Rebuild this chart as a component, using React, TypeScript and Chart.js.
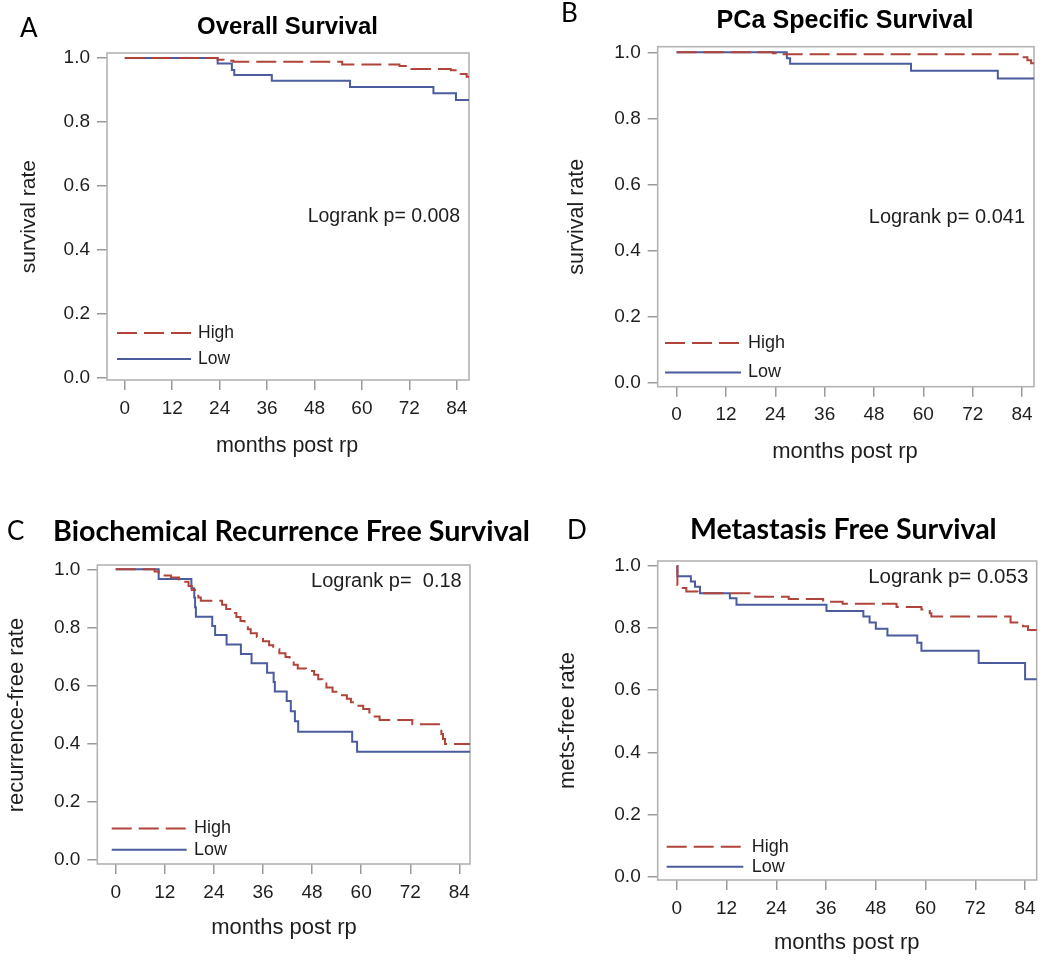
import React, { useEffect, useRef } from "react";
import { Chart, registerables } from "chart.js";

Chart.register(...registerables);

// ---------------- data ----------------
const monthTicks = [0, 12, 24, 36, 48, 60, 72, 84];
const rateTicks = [0, 0.2, 0.4, 0.6, 0.8, 1.0];
const groupNames = ["High", "Low"];

const panelLetters = ["A", "B", "C", "D"];
const panelTitles = [
  "Overall Survival",
  "PCa Specific Survival",
  "Biochemical Recurrence Free Survival",
  "Metastasis Free Survival",
];
const yAxisTitles = ["survival rate", "survival rate", "recurrence-free rate", "mets-free rate"];
const xAxisTitle = "months post rp";
const logrankTexts = ["Logrank p= 0.008", "Logrank p= 0.041", "Logrank p=  0.18", "Logrank p= 0.053"];

// A: Overall Survival
const osHighMonths = [0, 23.5, 25, 27.5, 55, 69.5, 71.5, 72.5, 82.5, 84, 85, 86.5, 87.5];
const osHighRate = [1.0, 0.995, 0.992, 0.989, 0.98, 0.975, 0.97, 0.966, 0.962, 0.957, 0.95, 0.942, 0.942];
const osLowMonths = [0, 23.5, 27.1, 27.7, 37.2, 57.0, 78.1, 83.8, 87.5];
const osLowRate = [1.0, 0.983, 0.963, 0.947, 0.929, 0.91, 0.89, 0.869, 0.869];

// B: PCa Specific Survival
const pcssHighMonths = [0, 23.4, 24.5, 83.9, 85.3, 86.2, 87.5];
const pcssHighRate = [1.0, 0.997, 0.994, 0.985, 0.976, 0.967, 0.967];
const pcssLowMonths = [0, 26.8, 27.6, 57.0, 78.1, 87.5];
const pcssLowRate = [1.0, 0.982, 0.965, 0.944, 0.921, 0.921];

// C: Biochemical Recurrence Free Survival
const bcrHighMonths = [0, 9.5, 10.5, 11.5, 13.5, 15.5, 17.0, 17.8, 18.6, 19.4, 20.2, 20.8, 26.0, 27.0, 28.5, 29.5, 30.5, 31.5, 32.3, 33.0, 34.5, 36.0, 37.5, 38.5, 40.0, 41.5, 42.5, 43.5, 44.5, 46.5, 48.5, 49.5, 50.5, 51.5, 53.0, 54.5, 56.5, 57.5, 58.5, 60.5, 62.0, 63.0, 64.5, 72.5, 79.0, 79.6, 80.0, 80.5, 87.5];
const bcrHighRate = [1.0, 0.993, 0.986, 0.979, 0.972, 0.965, 0.957, 0.943, 0.929, 0.915, 0.903, 0.892, 0.878, 0.864, 0.85, 0.836, 0.822, 0.808, 0.794, 0.78, 0.767, 0.753, 0.739, 0.725, 0.711, 0.698, 0.685, 0.672, 0.659, 0.65, 0.637, 0.622, 0.607, 0.593, 0.579, 0.567, 0.555, 0.543, 0.531, 0.519, 0.507, 0.494, 0.482, 0.467, 0.45, 0.433, 0.416, 0.399, 0.399];
const bcrLowMonths = [0, 10.5, 18.5, 19.2, 19.4, 19.6, 23.6, 24.3, 27.1, 30.6, 33.2, 37.0, 38.6, 38.9, 41.8, 42.8, 43.8, 44.6, 57.8, 59.0, 87.5];
const bcrLowRate = [1.0, 0.967, 0.935, 0.903, 0.87, 0.837, 0.805, 0.774, 0.741, 0.709, 0.677, 0.644, 0.612, 0.58, 0.547, 0.512, 0.477, 0.441, 0.407, 0.372, 0.372];

// D: Metastasis Free Survival
const mfsHighMonths = [0, 0.15, 1.0, 2.3, 5.0, 18.9, 27.0, 35.3, 40.0, 53.0, 59.0, 61.0, 61.4, 80.5, 83.5, 84.7, 87.5];
const mfsHighRate = [1.0, 0.939, 0.929, 0.918, 0.912, 0.901, 0.894, 0.885, 0.878, 0.868, 0.86, 0.848, 0.837, 0.818, 0.806, 0.794, 0.794];
const mfsLowMonths = [0, 0.15, 3.4, 4.4, 5.6, 12.8, 14.4, 36.1, 45.0, 46.5, 48.0, 50.8, 58.0, 59.0, 72.8, 84.0, 87.5];
const mfsLowRate = [1.0, 0.967, 0.95, 0.933, 0.912, 0.896, 0.875, 0.855, 0.837, 0.818, 0.798, 0.776, 0.753, 0.727, 0.688, 0.635, 0.635];

// ---------------- styling / layout ----------------
const HIGH_COLOR = "#B0433A";
const LOW_COLOR = "#4A5B9E";
const BOX_COLOR = "#b3b3b3";
const TICK_COLOR = "#9a9a9a";
const TEXT_COLOR = "#1e1e1e";
const HIGH_DASH = [20, 7];
const SANS = '"Liberation Sans", Arial, sans-serif';
const HUMAN = 'Lato, "Open Sans", sans-serif';
const X_AXIS_H = 40;

const zip = (xs: number[], ys: number[]) => xs.map((x, i) => ({ x, y: ys[i] }));

type Spec = {
  idx: number;
  ox: number; oy: number; w: number; h: number;
  box: { l: number; r: number; t: number; b: number };
  xr: [number, number]; yr: [number, number];
  high: { x: number; y: number }[]; low: { x: number; y: number }[];
  title: { cx: number; cy: number; width: number; family: string };
  letter: { x: number; cy: number };
  yTitle: { x: number; cy: number; size: number };
  xTitle: { cx: number; cy: number; size: number };
  logrank: { right: number; cy: number; size: number };
  legend: { x1: number; x2: number; tx: number; yHigh: number; yLow: number; size: number };
};

const specs: Spec[] = [
  {
    idx: 0, ox: 0, oy: 0, w: 525, h: 480,
    box: { l: 107, r: 469, t: 53, b: 380 },
    xr: [-4.5, 87.1], yr: [-0.006, 1.016],
    high: zip(osHighMonths, osHighRate), low: zip(osLowMonths, osLowRate),
    title: { cx: 287.5, cy: 27, width: 181, family: SANS },
    letter: { x: 20, cy: 29 },
    yTitle: { x: 29, cy: 216.7, size: 21 },
    xTitle: { cx: 287, cy: 446, size: 21.5 },
    logrank: { right: 460, cy: 217, size: 19.5 },
    legend: { x1: 117, x2: 191, tx: 198, yHigh: 333, yLow: 359, size: 17.5 },
  },
  {
    idx: 1, ox: 525, oy: 0, w: 525, h: 480,
    box: { l: 657.7, r: 1034, t: 46.7, b: 386.7 },
    xr: [-4.6, 86.9], yr: [-0.013, 1.017],
    high: zip(pcssHighMonths, pcssHighRate), low: zip(pcssLowMonths, pcssLowRate),
    title: { cx: 845, cy: 21.5, width: 257, family: SANS },
    letter: { x: 561, cy: 14 },
    yTitle: { x: 577, cy: 216.7, size: 21.5 },
    xTitle: { cx: 845, cy: 452, size: 22 },
    logrank: { right: 1025, cy: 217, size: 20 },
    legend: { x1: 665, x2: 741, tx: 748, yHigh: 343, yLow: 372.5, size: 18 },
  },
  {
    idx: 2, ox: 0, oy: 480, w: 545, h: 483,
    box: { l: 97.3, r: 470, t: 565, b: 864 },
    xr: [-4.5, 86.6], yr: [-0.014, 1.015],
    high: zip(bcrHighMonths, bcrHighRate), low: zip(bcrLowMonths, bcrLowRate),
    title: { cx: 291.5, cy: 531.5, width: 477, family: HUMAN },
    letter: { x: 7, cy: 531.7 },
    yTitle: { x: 17, cy: 715, size: 22 },
    xTitle: { cx: 284, cy: 927.5, size: 22 },
    logrank: { right: 461.7, cy: 581, size: 20 },
    legend: { x1: 111.7, x2: 186.7, tx: 194, yHigh: 828.5, yLow: 849.7, size: 18 },
  },
  {
    idx: 3, ox: 525, oy: 480, w: 525, h: 483,
    box: { l: 657.7, r: 1036.7, t: 561, b: 880 },
    xr: [-4.6, 86.8], yr: [-0.011, 1.016],
    high: zip(mfsHighMonths, mfsHighRate), low: zip(mfsLowMonths, mfsLowRate),
    title: { cx: 843.3, cy: 530, width: 307, family: HUMAN },
    letter: { x: 567, cy: 530.5 },
    yTitle: { x: 568.3, cy: 720.5, size: 22 },
    xTitle: { cx: 846.7, cy: 942.5, size: 22 },
    logrank: { right: 1028.3, cy: 577, size: 20.5 },
    legend: { x1: 666.7, x2: 743.3, tx: 751.7, yHigh: 846.7, yLow: 866.7, size: 18 },
  },
];

function decoPlugin(s: Spec) {
  return {
    id: "panelDeco" + s.idx,
    beforeDatasetsDraw(chart: any) {
      const { ctx, chartArea: a } = chart;
      ctx.save();
      ctx.strokeStyle = BOX_COLOR;
      ctx.lineWidth = 1.6;
      ctx.strokeRect(a.left, a.top, a.right - a.left, a.bottom - a.top);
      ctx.restore();
    },
    afterDraw(chart: any) {
      const ctx: CanvasRenderingContext2D = chart.ctx;
      const X = (v: number) => v - s.ox;
      const Y = (v: number) => v - s.oy;
      ctx.save();
      ctx.fillStyle = TEXT_COLOR;
      ctx.textBaseline = "middle";

      // panel title (fit to measured width)
      const titleText = panelTitles[s.idx];
      ctx.font = `bold 100px ${s.title.family}`;
      const tsz = (100 * s.title.width) / ctx.measureText(titleText).width;
      ctx.font = `bold ${tsz}px ${s.title.family}`;
      ctx.textAlign = "center";
      ctx.fillStyle = "#000";
      ctx.fillText(titleText, X(s.title.cx), Y(s.title.cy));

      // panel letter
      ctx.font = `26px ${HUMAN}`;
      ctx.textAlign = "left";
      ctx.fillText(panelLetters[s.idx], X(s.letter.x), Y(s.letter.cy));

      // axis titles
      ctx.fillStyle = TEXT_COLOR;
      ctx.font = `${s.xTitle.size}px ${SANS}`;
      ctx.textAlign = "center";
      ctx.fillText(xAxisTitle, X(s.xTitle.cx), Y(s.xTitle.cy));
      ctx.save();
      ctx.translate(X(s.yTitle.x), Y(s.yTitle.cy));
      ctx.rotate(-Math.PI / 2);
      ctx.font = `${s.yTitle.size}px ${SANS}`;
      ctx.fillText(yAxisTitles[s.idx], 0, 0);
      ctx.restore();

      // logrank annotation
      ctx.font = `${s.logrank.size}px ${SANS}`;
      ctx.textAlign = "right";
      ctx.fillText(logrankTexts[s.idx], X(s.logrank.right), Y(s.logrank.cy));

      // legend
      const lg = s.legend;
      const rows = [
        { name: groupNames[0], color: HIGH_COLOR, dash: HIGH_DASH, y: lg.yHigh },
        { name: groupNames[1], color: LOW_COLOR, dash: [] as number[], y: lg.yLow },
      ];
      rows.forEach((r) => {
        ctx.save();
        ctx.strokeStyle = r.color;
        ctx.lineWidth = 2;
        ctx.setLineDash(r.dash);
        ctx.beginPath();
        ctx.moveTo(X(lg.x1), Y(r.y));
        ctx.lineTo(X(lg.x2), Y(r.y));
        ctx.stroke();
        ctx.restore();
        ctx.font = `${lg.size}px ${SANS}`;
        ctx.textAlign = "left";
        ctx.fillStyle = TEXT_COLOR;
        ctx.fillText(r.name, X(lg.tx), Y(r.y));
      });
      ctx.restore();
    },
  };
}

function buildConfig(s: Spec): any {
  const bl = s.box.l - s.ox;
  const br = s.box.r - s.ox;
  const bt = s.box.t - s.oy;
  const bb = s.box.b - s.oy;
  const tickFont = { family: SANS, size: 19 };
  return {
    type: "line",
    data: {
      datasets: [
        {
          label: groupNames[0],
          data: s.high,
          borderColor: HIGH_COLOR,
          borderWidth: 2,
          borderDash: HIGH_DASH,
          stepped: true,
          pointRadius: 0,
          fill: false,
        },
        {
          label: groupNames[1],
          data: s.low,
          borderColor: LOW_COLOR,
          borderWidth: 2,
          stepped: true,
          pointRadius: 0,
          fill: false,
        },
      ],
    },
    options: {
      responsive: false,
      animation: false,
      devicePixelRatio: 1,
      events: [],
      layout: { padding: { left: 0, top: bt, right: s.w - br, bottom: s.h - bb - X_AXIS_H } },
      plugins: { legend: { display: false }, tooltip: { enabled: false }, title: { display: false } },
      scales: {
        x: {
          type: "linear",
          min: s.xr[0],
          max: s.xr[1],
          afterFit: (sc: any) => { sc.height = X_AXIS_H; },
          afterBuildTicks: (sc: any) => { sc.ticks = monthTicks.map((v) => ({ value: v })); },
          border: { display: false },
          grid: { display: true, drawOnChartArea: false, drawTicks: true, tickLength: 10, color: TICK_COLOR, lineWidth: 1.5 },
          ticks: { font: tickFont, color: TEXT_COLOR, padding: 7, maxRotation: 0, autoSkip: false, callback: (v: any) => String(v) },
          title: { display: false },
        },
        y: {
          type: "linear",
          min: s.yr[0],
          max: s.yr[1],
          afterFit: (sc: any) => { sc.width = bl; },
          afterBuildTicks: (sc: any) => { sc.ticks = rateTicks.map((v) => ({ value: v })); },
          border: { display: false },
          grid: { display: true, drawOnChartArea: false, drawTicks: true, tickLength: 10, color: TICK_COLOR, lineWidth: 1.5 },
          ticks: { font: tickFont, color: TEXT_COLOR, padding: 7, autoSkip: false, callback: (v: any) => Number(v).toFixed(1) },
          title: { display: false },
        },
      },
    },
    plugins: [decoPlugin(s)],
  };
}

function Panel({ spec }: { spec: Spec }) {
  const ref = useRef<HTMLCanvasElement>(null);
  useEffect(() => {
    if (!ref.current) return;
    const chart = new Chart(ref.current, buildConfig(spec));
    return () => chart.destroy();
  }, [spec]);
  return (
    <canvas
      ref={ref}
      width={spec.w}
      height={spec.h}
      style={{ position: "absolute", left: spec.ox, top: spec.oy, width: spec.w, height: spec.h }}
    />
  );
}

export default function App() {
  return (
    <div style={{ position: "absolute", left: 0, top: 0, width: 1050, height: 963, background: "#fff", overflow: "hidden" }}>
      {specs.map((s) => (
        <Panel key={s.idx} spec={s} />
      ))}
    </div>
  );
}
